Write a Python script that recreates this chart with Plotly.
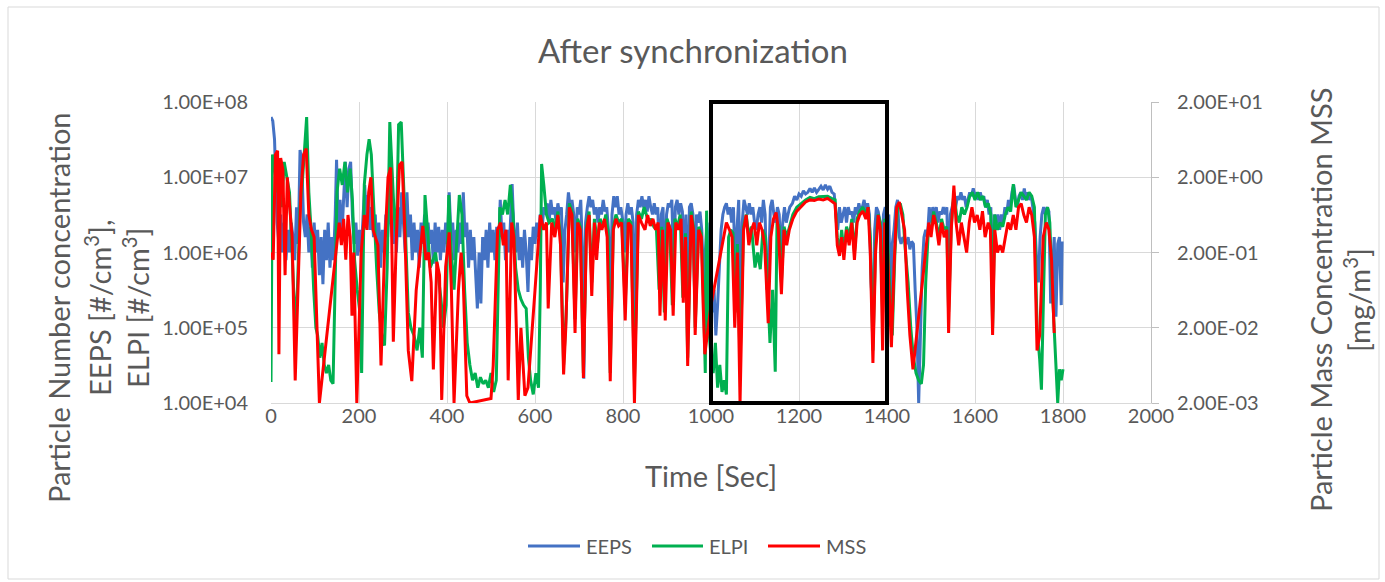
import plotly.graph_objects as go

# ---------------- data ----------------
eeps_t = [0, 4, 8, 11, 14, 18, 22, 26, 30, 34, 38, 42, 46, 50, 54, 58, 62, 66, 70, 74, 78, 82, 86, 90, 94, 98,
          102, 106, 110, 114, 118, 122, 126, 130, 134, 138, 142, 146, 149, 153, 157, 161, 165, 169, 173, 177, 181,
          185, 189, 193, 197, 201, 205, 209, 213, 217, 221, 225, 229, 233, 237, 241, 245, 249, 253, 257, 261, 265,
          269, 273, 277, 281, 285, 289, 293, 297, 301, 305, 309, 313, 317, 321, 325, 329, 333, 337, 341, 345, 349,
          353, 357, 361, 365, 369, 373, 377, 381, 385, 389, 393, 397, 401, 405, 409, 413, 417, 421, 425, 429, 433,
          437, 441, 445, 449, 453, 457, 461, 465, 469, 473, 477, 481, 485, 489, 493, 497, 501, 505, 509, 513, 517,
          521, 525, 529, 533, 537, 541, 545, 548, 552, 556, 560, 564, 568, 572, 576, 580, 584, 588, 592, 596, 600,
          604, 608, 612, 616, 620, 624, 628, 632, 636, 640, 644, 648, 652, 656, 660, 664, 668, 672, 676, 680, 684,
          688, 692, 696, 700, 704, 708, 711, 715, 719, 723, 727, 731, 735, 739, 743, 747, 751, 755, 759, 763, 767,
          771, 775, 779, 783, 787, 791, 795, 799, 803, 807, 811, 815, 819, 823, 827, 831, 835, 839, 843, 847, 851,
          855, 859, 863, 867, 871, 875, 879, 883, 887, 891, 895, 899, 903, 907, 911, 915, 919, 923, 927, 931, 935,
          939, 943, 947, 951, 955, 959, 963, 967, 971, 975, 979, 983, 987, 991, 995, 999, 1003, 1007, 1011, 1015,
          1019, 1023, 1027, 1031, 1035, 1039, 1043, 1047, 1051, 1055, 1059, 1063, 1067, 1071, 1075, 1079, 1083,
          1087, 1091, 1095, 1099, 1103, 1107, 1111, 1115, 1119, 1123, 1127, 1131, 1135, 1139, 1143, 1147, 1151,
          1155, 1159, 1163, 1167, 1171, 1175, 1179, 1185, 1190, 1195, 1200, 1205, 1210, 1215, 1220, 1225, 1230,
          1235, 1240, 1245, 1250, 1255, 1260, 1265, 1270, 1275, 1280, 1284, 1288, 1292, 1296, 1300, 1304, 1308,
          1312, 1316, 1320, 1324, 1328, 1332, 1336, 1340, 1344, 1348, 1352, 1356, 1360, 1364, 1368, 1372, 1376,
          1380, 1384, 1388, 1392, 1396, 1400, 1404, 1408, 1412, 1416, 1420, 1424, 1428, 1432, 1436, 1440, 1444,
          1448, 1452, 1456, 1460, 1464, 1468, 1472, 1476, 1480, 1484, 1488, 1492, 1496, 1500, 1504, 1508, 1512,
          1516, 1520, 1524, 1528, 1532, 1536, 1540, 1544, 1548, 1552, 1556, 1560, 1564, 1568, 1572, 1576, 1580,
          1584, 1588, 1592, 1596, 1600, 1604, 1608, 1612, 1616, 1620, 1624, 1628, 1632, 1636, 1640, 1644, 1648,
          1652, 1656, 1660, 1664, 1668, 1672, 1676, 1680, 1684, 1688, 1692, 1696, 1700, 1704, 1708, 1712, 1716,
          1720, 1724, 1728, 1732, 1736, 1740, 1744, 1748, 1752, 1756, 1760, 1764, 1768, 1772, 1776, 1780, 1784,
          1788, 1792, 1796, 1798]
eeps_v = [6.3e7, 5.6e7, 3.2e7, 1.0e7, 2.5e6, 1.3e6, 3.2e6, 1.0e6, 2.5e6, 7.9e5, 2.0e6, 1.0e6, 2.5e6, 1.6e6, 7.9e5,
          4.0e6, 1.3e6, 2.3e7, 1.6e7, 2.5e6, 1.6e6, 3.2e6, 1.0e6, 2.2e6, 6.3e5, 2.5e6,
          1.0e6, 2.0e6, 5.0e5, 1.6e6, 3.8e5, 2.0e6, 7.9e5, 2.5e6, 6.3e5, 1.6e6, 7.9e5, 3.2e6, 1.7e7, 2.0e6, 5.0e6,
          1.6e6, 6.3e6, 1.6e7, 4.0e6, 1.3e7, 1.6e7,
          3.2e6, 1.3e6, 2.5e6, 9.1e5, 2.0e6, 1.0e6, 3.2e6, 7.9e6, 2.5e6, 5.8e6, 2.0e6, 4.0e6, 1.6e6, 3.2e6, 1.0e6,
          2.5e6, 6.3e5, 2.0e6, 1.0e6, 3.2e6, 1.6e6,
          6.3e6, 2.5e6, 1.3e6, 3.2e6, 1.0e6, 4.0e6, 1.6e6, 6.3e6, 2.0e6, 1.0e6, 6.3e6, 1.6e6, 3.2e6, 7.9e5, 2.5e6,
          1.0e6, 2.0e6, 6.3e5, 2.5e6, 1.3e6, 3.2e6,
          7.9e5, 2.5e6, 1.3e6, 2.0e6, 7.1e5, 2.5e6, 1.0e6, 2.2e6, 7.9e5, 2.0e6, 1.0e6, 2.5e6, 1.3e6, 6.3e6, 1.6e6,
          2.5e6, 7.9e5, 2.0e6, 1.0e6, 2.5e6, 1.3e6,
          6.3e6, 1.6e6, 2.5e6, 6.3e5, 2.0e6, 7.9e5, 1.6e6, 5.0e5, 1.8e5, 1.0e6, 2.1e5, 1.6e6, 7.9e5, 2.0e6, 6.3e5,
          2.5e6, 1.0e6, 2.0e6, 7.9e5, 2.2e6, 1.0e6,
          5.0e6, 1.6e6, 2.5e6, 7.9e5, 2.0e6, 1.0e6, 3.2e6, 8.1e6, 2.0e6, 1.0e6, 2.5e6, 7.9e5, 1.6e6, 6.3e5, 2.0e6,
          1.0e6, 3.0e5, 1.6e6, 7.9e5, 2.2e6, 1.3e6,
          2.5e6, 1.6e6, 3.2e6, 2.0e6, 4.0e6, 3.2e6, 4.5e6, 2.5e6, 5.0e6, 3.2e6, 4.0e6, 2.5e6, 4.5e6, 3.2e6, 4.0e6,
          4.0e5, 2.0e6, 3.2e6, 6.3e6, 4.0e6, 5.0e6,
          3.2e6, 1.0e6, 4.0e6, 3.2e6, 5.0e6, 1.0e6, 2.1e4, 2.5e6, 4.0e6, 5.6e6, 4.0e6, 5.0e6, 3.2e6, 4.0e6, 2.5e6,
          4.0e6, 3.2e6, 5.0e6, 3.5e6, 4.0e6, 2.0e6,
          1.0e5, 3.2e6, 5.6e6, 4.0e6, 5.6e6, 3.2e6, 4.0e6, 2.8e6, 1.0e6, 3.2e6, 4.5e6, 3.2e6, 4.0e6, 2.5e6, 1.0e5,
          3.2e6, 5.0e6, 4.0e6, 5.6e6, 4.0e6, 5.0e6,
          3.5e6, 5.6e6, 4.0e6, 3.2e6, 4.5e6, 3.2e6, 4.0e6, 6.3e5, 3.2e6, 4.0e6, 4.0e5, 3.2e6, 4.5e6, 4.0e6, 5.0e6,
          6.3e5, 4.0e6, 5.0e6, 3.2e6, 4.5e6, 3.5e6,
          7.9e5, 3.2e6, 1.6e5, 4.0e6, 4.5e6, 3.2e6, 2.5e5, 3.2e6, 2.5e6, 3.5e6, 2.0e6, 4.0e5, 1.0e6, 2.5e6, 7.9e5,
          4.0e5, 1.6e5, 3.2e5, 7.9e4, 2.0e5,
          7.9e5, 2.0e6, 3.2e6, 4.0e6, 4.5e6, 3.2e6, 4.0e6, 2.5e6, 4.0e6, 6.3e5, 2.0e6, 5.0e6, 1.0e5, 2.5e6, 5.0e6,
          4.0e6, 3.2e6,
          4.5e6, 3.2e6, 4.0e6, 2.5e6, 2.0e6, 3.2e6, 4.0e6, 2.5e6, 5.0e6, 3.2e6, 3.2e5, 6.3e5, 4.0e6, 5.0e6, 3.2e6,
          2.5e6, 4.0e6,
          3.2e6, 7.9e5, 2.5e6, 4.0e6, 2.5e6, 3.2e6, 4.0e6, 4.5e6, 5.6e6, 5.0e6, 6.0e6, 5.6e6, 6.6e6, 6.0e6, 6.3e6,
          7.1e6, 6.3e6,
          7.2e6, 6.3e6, 6.9e6, 7.6e6, 6.8e6, 7.9e6, 6.9e6, 7.6e6, 6.3e6, 6.0e6, 3.2e6, 2.0e6, 4.0e6, 2.5e6, 3.2e6,
          4.0e6, 2.5e6,
          4.0e6, 3.2e6, 3.5e6, 2.5e6, 4.0e6, 3.2e6, 4.5e6, 3.5e6, 4.0e6, 5.0e6, 3.5e6, 4.5e6, 3.2e6, 4.0e5, 1.0e5,
          2.0e6, 4.0e6,
          3.5e6, 2.5e6, 4.0e5, 3.2e6, 4.0e6, 1.6e6, 3.2e6, 2.5e5, 1.3e6, 2.0e6, 4.0e6, 5.0e6, 1.6e6, 1.3e6, 1.6e6,
          1.4e6, 1.3e6,
          1.6e6, 1.1e6, 1.4e6, 1.3e6, 3.2e5, 1.0e5, 1.0e4, 1.0e5, 6.3e5, 1.6e6, 2.0e6, 1.6e6, 4.0e6, 2.5e6, 4.0e6,
          3.2e6, 4.0e6,
          2.5e6, 3.5e6, 3.2e6, 4.0e6, 3.2e6, 4.0e6, 4.0e5, 3.2e6, 4.0e6, 5.0e6, 4.0e6, 5.6e6, 5.0e6, 6.3e6, 5.0e6,
          5.6e6, 4.0e6,
          5.0e6, 6.3e6, 5.6e6, 7.1e6, 5.6e6, 6.3e6, 5.0e6, 6.3e6, 5.0e6, 5.6e6, 4.0e6, 5.0e6, 3.2e6, 4.0e6, 1.6e5,
          3.2e6, 2.5e6,
          3.2e6, 2.0e6, 3.2e6, 2.5e6, 4.0e6, 3.2e6, 5.0e6, 4.0e6, 6.3e6, 7.9e6, 5.0e6, 4.0e6, 5.6e6, 6.3e6, 5.0e6,
          7.1e6, 5.0e6,
          6.3e6, 5.0e6, 5.6e6, 4.0e6, 2.5e6, 7.9e5, 4.0e5, 1.6e6, 3.2e6, 4.0e6, 3.2e6, 4.0e6, 3.5e6, 2.1e5, 6.3e5,
          1.6e6, 1.4e5,
          1.3e6, 1.6e6, 2.0e5, 1.4e6]

elpi_t = [0, 3, 8, 13, 18, 24, 30, 36, 42, 48, 55, 60, 66, 72, 78, 81, 86, 92, 97, 102, 106, 111, 116, 121, 126,
          131, 136, 141, 150, 156, 162, 168, 174, 180, 185, 190, 196, 202, 206, 212, 218, 223, 228, 234, 240, 246,
          252, 258, 264, 270, 275, 280, 285, 290, 296, 300, 306, 312, 318, 325, 332, 338, 344, 350, 356, 362, 368,
          374, 380, 386, 392, 398, 404, 410, 416, 422, 428, 434, 440, 446, 452, 458, 464, 470, 476, 482, 488, 494,
          500, 506, 512, 520, 526, 532, 538, 544, 550, 556, 562, 568, 574, 580, 585, 590, 596, 602, 608, 612, 615,
          620, 626, 632, 640, 646, 652, 658, 665, 671, 678, 684, 691, 697, 703, 710, 717, 723, 729, 735, 742, 748,
          755, 761, 766, 771, 778, 784, 790, 797, 805, 812, 818, 826, 835, 842, 848, 853, 858, 864, 870, 876, 882,
          888, 894, 900, 906, 912, 918, 924, 930, 936, 942, 947, 955, 960, 964, 972, 978, 983, 987, 990, 995, 1000,
          1005, 1010, 1015, 1020, 1025, 1030, 1035, 1040, 1045, 1050, 1055, 1060, 1066, 1074, 1080, 1086, 1092,
          1100, 1106, 1112, 1118, 1124, 1130, 1134, 1140, 1146, 1150, 1155, 1160, 1166, 1172, 1178, 1186, 1195,
          1205, 1215, 1225, 1235, 1245, 1255, 1265, 1275, 1282, 1287, 1292, 1297, 1302, 1308, 1314, 1320, 1326,
          1332, 1338, 1345, 1352, 1357, 1362, 1368, 1374, 1380, 1385, 1390, 1395, 1400, 1406, 1412, 1418, 1424,
          1430, 1436, 1442, 1448, 1454, 1460, 1466, 1472, 1478, 1483, 1488, 1494, 1500, 1506, 1512, 1518, 1524,
          1530, 1536, 1540, 1546, 1552, 1558, 1564, 1570, 1576, 1582, 1588, 1594, 1600, 1606, 1612, 1618, 1624,
          1630, 1636, 1640, 1645, 1651, 1657, 1663, 1669, 1675, 1681, 1687, 1693, 1699, 1705, 1711, 1717, 1723,
          1729, 1735, 1741, 1747, 1751, 1756, 1760, 1765, 1770, 1775, 1780, 1784, 1788, 1792, 1796, 1800]
elpi_v = [1.9e4, 2.0e7, 1.6e7, 6.3e6, 1.0e7, 4.0e6, 1.6e7, 1.0e7, 6.3e6, 1.0e6, 1.0e5, 3.2e5, 4.0e6, 1.0e7, 3.2e7,
          6.3e7, 6.3e6, 1.6e6, 3.2e5, 1.0e5, 7.9e4, 4.0e4, 6.3e4, 3.2e4, 2.5e4,
          3.2e4, 2.0e4, 1.8e4, 6.3e6, 1.3e7, 7.9e6, 1.6e7, 6.3e6, 1.3e7, 5.0e6, 7.9e5, 3.2e5, 1.6e5, 2.5e4, 7.9e6,
          2.0e7, 3.2e7, 2.0e7, 3.2e6, 6.3e5, 1.6e5,
          7.9e4, 5.8e4, 6.3e5, 5.4e7, 1.6e7, 3.2e6, 1.6e6, 5.0e7, 5.4e7, 1.6e7, 1.6e6, 1.6e5, 1.0e5, 7.9e4, 5.0e4,
          1.0e5, 4.0e4, 5.8e6, 1.6e6, 6.3e5, 7.9e5,
          1.0e6, 5.0e5, 2.5e5, 1.0e5, 2.0e5, 5.8e6, 1.0e6, 3.2e5, 1.6e6, 5.8e6, 3.2e6, 3.2e5, 6.3e4, 3.2e4, 2.0e4,
          2.5e4, 1.6e4, 2.2e4, 1.8e4, 2.0e4, 1.6e4,
          2.5e4, 1.4e4, 2.0e4, 4.0e6, 3.2e6, 5.0e6, 3.2e6, 7.9e6, 3.2e6, 6.3e5, 3.2e5, 2.4e5, 2.0e5, 1.8e5, 4.0e4,
          2.0e4, 1.3e4, 2.5e4, 1.6e4, 3.2e5, 1.5e7,
          7.9e6, 3.2e6, 2.5e6, 2.8e6, 2.0e6, 3.5e6, 1.6e6, 3.2e4, 1.6e5, 4.5e6, 3.5e6, 1.3e5, 2.8e6, 2.2e6, 2.5e4,
          2.2e6, 3.5e6, 4.0e5, 2.8e6, 1.3e6, 2.8e6,
          2.2e6, 3.2e6, 1.8e6, 2.5e4, 2.2e6, 3.2e6, 2.5e6, 2.8e6, 2.0e5, 2.8e6, 2.5e6, 2.0e4, 3.5e6, 2.8e6, 4.0e6,
          3.2e6, 2.5e6, 2.8e6, 2.2e6, 2.0e6, 3.2e5,
          2.2e6, 1.6e5, 2.8e6, 2.2e6, 2.0e5, 2.8e6, 2.2e6, 3.2e6, 2.5e5, 1.8e6, 4.0e4, 3.5e6, 2.2e6, 1.0e5, 2.2e6,
          1.8e6, 2.5e5, 2.5e4, 3.6e6, 1.0e5, 4.0e4,
          2.5e4, 6.3e4, 1.6e4, 3.2e4, 1.4e4, 2.0e4, 1.3e4, 1.6e6, 2.0e6, 1.8e6, 1.6e5, 1.3e6, 3.2e4, 2.2e6, 3.2e6,
          1.6e6, 2.2e6,
          6.3e5, 1.0e6, 6.0e5, 2.0e6, 1.6e6, 1.6e5, 6.3e4, 3.2e5, 2.6e4, 2.5e6, 2.2e6, 4.0e5, 2.2e6, 1.6e6, 2.2e6,
          3.2e6, 4.0e6,
          4.5e6, 5.0e6, 5.4e6, 5.2e6, 5.5e6, 5.5e6, 5.6e6, 5.2e6, 5.0e6, 1.6e6, 1.0e6, 2.0e6, 1.0e6, 2.2e6, 1.6e6,
          2.8e6, 1.0e6,
          2.8e6, 3.5e6, 4.0e6, 3.2e6, 4.0e6, 1.6e6, 5.0e4, 1.3e6, 3.2e6, 2.5e6, 1.6e5, 2.8e6, 2.0e6, 4.0e5, 7.9e4,
          1.0e6, 4.0e6,
          4.5e6, 3.2e6, 1.0e6, 4.0e5, 1.0e5, 4.0e4, 2.5e4, 2.0e4, 1.8e4, 3.2e4, 4.0e5, 2.0e6, 2.0e6, 3.5e6, 2.5e6,
          1.6e6, 2.8e6,
          2.0e6, 2.2e6, 1.6e5, 2.2e6, 6.3e6, 3.2e6, 2.5e6, 4.0e6, 3.2e6, 4.0e6, 5.6e6, 6.3e6, 5.0e6, 6.3e6, 5.0e6,
          5.6e6, 4.0e6,
          4.5e6, 3.2e6, 1.0e5, 3.2e6, 2.0e6, 2.5e6, 2.2e6, 3.2e6, 4.0e6, 3.5e6, 8.1e6, 4.0e6, 5.0e6, 6.3e6, 5.6e6,
          5.0e6, 6.3e6,
          5.6e6, 4.0e6, 1.0e5, 3.8e4, 1.5e4, 3.2e5, 3.2e6, 4.0e6, 2.5e6, 4.0e5, 7.9e4, 3.2e4, 1.0e4, 2.8e4, 2.0e4,
          2.8e4]

mss_t = [0, 5, 10, 15, 18, 22, 27, 32, 37, 42, 48, 55, 62, 68, 74, 80, 86, 92, 98, 104, 110, 155, 160, 165, 170,
         175, 180, 184, 188, 195, 205, 212, 218, 222, 227, 232, 238, 243, 250, 258, 266, 272, 278, 285, 292, 298,
         304, 312, 320, 330, 345, 352, 358, 364, 369, 377, 383, 388, 397, 405, 410, 416, 426, 432, 437, 445, 452,
         500, 505, 515, 522, 528, 534, 539, 547, 552, 562, 568, 577, 584, 600, 612, 620, 626, 630, 638, 645, 652,
         658, 665, 670, 678, 684, 691, 697, 703, 710, 717, 723, 729, 735, 740, 746, 752, 758, 764, 771, 778, 784,
         790, 797, 805, 812, 818, 826, 835, 842, 850, 856, 862, 868, 874, 880, 884, 890, 896, 902, 908, 914, 920,
         926, 932, 937, 942, 947, 955, 960, 964, 972, 978, 982, 986, 1000, 1035, 1042, 1048, 1054, 1060, 1066,
         1074, 1080, 1086, 1092, 1098, 1104, 1110, 1116, 1122, 1130, 1136, 1142, 1148, 1153, 1160, 1166, 1172,
         1178, 1186, 1195, 1205, 1215, 1225, 1235, 1245, 1255, 1265, 1275, 1282, 1287, 1292, 1297, 1302, 1308,
         1314, 1320, 1326, 1332, 1338, 1345, 1352, 1357, 1362, 1368, 1374, 1380, 1385, 1390, 1395, 1400, 1405,
         1410, 1416, 1422, 1428, 1434, 1440, 1446, 1452, 1459, 1495, 1500, 1506, 1512, 1518, 1524, 1530, 1536,
         1540, 1546, 1552, 1557, 1563, 1569, 1575, 1581, 1587, 1593, 1599, 1605, 1611, 1617, 1623, 1630, 1635,
         1640, 1645, 1651, 1657, 1663, 1669, 1675, 1681, 1687, 1693, 1699, 1705, 1711, 1717, 1723, 1729, 1735,
         1741, 1747, 1755, 1762, 1768, 1774, 1780]
mss_v = [0.20, 0.16, 4.0, 4.5, 0.0089, 3.6, 2.5, 0.10, 2.0, 0.80, 0.32, 0.0040, 0.13, 1.26, 4.0, 4.8, 0.63, 0.40,
         0.32, 0.020, 0.0020, 0.50, 0.25, 0.56, 0.16,
         0.63, 0.32, 0.029, 0.20, 0.0020, 0.20, 0.63, 0.40, 1.26, 2.0, 0.40, 0.32, 0.25, 0.0063, 0.20, 2.0, 2.7,
         0.013, 0.32, 2.9, 3.2,
         0.40, 0.010, 0.0039, 0.063, 0.45, 0.16, 0.20, 0.080, 0.0056, 0.15, 0.10, 0.0022, 0.13, 0.37, 0.063, 0.0020,
         0.063, 0.20, 0.080, 0.0025, 0.0020,
         0.0023, 0.0063, 0.40, 0.50, 0.25, 0.40, 0.0040, 0.50, 0.32, 0.0022, 0.020, 0.0025, 0.0032, 0.063, 0.63,
         0.40, 0.50, 0.036, 0.50, 0.32, 0.63,
         0.25, 0.0048, 0.020, 0.80, 0.63, 0.017, 0.50, 0.40, 0.0043, 0.40, 0.63, 0.053, 0.50, 0.16, 0.50, 0.40, 0.56,
         0.32, 0.0039, 0.40, 0.56,
         0.45, 0.50, 0.025, 0.50, 0.45, 0.0020, 0.63, 0.50, 0.40, 0.63, 0.45, 0.56, 0.40, 0.50, 0.029, 0.40, 0.025,
         0.50, 0.40, 0.029, 0.50,
         0.40, 0.56, 0.043, 0.32, 0.0062, 0.63, 0.40, 0.016, 0.40, 0.32, 0.043, 0.0089, 0.040, 0.50, 0.40, 0.32,
         0.020, 0.20, 0.0020,
         0.40, 0.63, 0.25, 0.40, 0.50, 0.25, 0.50, 0.40, 0.25, 0.023, 0.32, 0.56, 0.68, 0.40, 0.056, 0.40, 0.25,
         0.40, 0.56, 0.71, 0.83, 0.94, 1.0, 0.98, 1.03, 1.0, 1.05, 0.96, 0.89, 0.25, 0.18, 0.32, 0.16, 0.40,
         0.25, 0.50, 0.16, 0.50, 0.63, 0.71, 0.56, 0.80, 0.20, 0.0068, 0.20, 0.63, 0.40, 0.010, 0.50, 0.32, 0.063,
         0.011, 0.13, 0.80, 0.94, 0.63, 0.40, 0.063, 0.016, 0.0056, 0.50, 0.32, 0.63, 0.45, 0.25, 0.50, 0.32, 0.40,
         0.017, 0.40, 1.55, 0.50, 0.25, 0.50, 0.32, 0.20, 0.50, 0.80, 0.50, 0.63, 0.40, 0.71, 0.32, 0.50, 0.40,
         0.016, 0.40, 0.20, 0.25, 0.20, 0.32, 0.50, 0.40, 0.63, 0.40, 0.80, 0.89, 0.63, 0.50, 0.80, 0.63, 0.32,
         0.010, 0.016, 0.32, 0.50, 0.40, 0.16, 0.017]

left_ticks = [1e4, 1e5, 1e6, 1e7, 1e8]
left_ticktext = ["1.00E+04", "1.00E+05", "1.00E+06", "1.00E+07", "1.00E+08"]
right_ticks = [0.002, 0.02, 0.2, 2, 20]
right_ticktext = ["2.00E-03", "2.00E-02", "2.00E-01", "2.00E+00", "2.00E+01"]
highlight = [1000, 1400]
series_names = ["EEPS", "ELPI", "MSS"]
series_colors = ["#4472C4", "#00B050", "#FF0000"]

# ---------------- figure ----------------
FONT = "Lato"
GREY = "#595959"
W, H = 1385, 582
ML, MR, MT, MB = 271, 234, 102, 179
PW, PH = W - ML - MR, H - MT - MB


def px_x(px):
    return (px - ML) / PW


def px_y(py):
    return (H - MB - py) / PH


fig = go.Figure()
fig.add_trace(go.Scatter(x=eeps_t, y=eeps_v, name=series_names[0], mode="lines",
                         line=dict(color=series_colors[0], width=3), yaxis="y"))
fig.add_trace(go.Scatter(x=elpi_t, y=elpi_v, name=series_names[1], mode="lines",
                         line=dict(color=series_colors[1], width=3), yaxis="y"))
fig.add_trace(go.Scatter(x=mss_t, y=mss_v, name=series_names[2], mode="lines",
                         line=dict(color=series_colors[2], width=3), yaxis="y2"))

fig.update_layout(
    width=W, height=H,
    margin=dict(l=ML, r=MR, t=MT, b=MB, autoexpand=False),
    paper_bgcolor="white", plot_bgcolor="white",
    font=dict(family=FONT, color=GREY),
    showlegend=False,
    xaxis=dict(range=[0, 2000], tickvals=list(range(0, 2001, 200)), showgrid=True,
               gridcolor="#D9D9D9", gridwidth=1, zeroline=False, showline=True,
               linecolor="#D9D9D9", linewidth=1, ticks="", ticklabelstandoff=-5,
               tickfont=dict(family=FONT, size=20, color=GREY)),
    yaxis=dict(type="log", range=[4, 8], tickvals=left_ticks, ticktext=left_ticktext,
               showgrid=True, gridcolor="#D9D9D9", gridwidth=1, zeroline=False,
               showline=False, ticks="", ticklabelstandoff=22,
               tickfont=dict(family=FONT, size=20, color=GREY)),
    yaxis2=dict(type="log", range=[-2.69897, 1.30103], tickvals=right_ticks, ticktext=right_ticktext,
                overlaying="y", side="right", showgrid=False, zeroline=False,
                showline=True, linecolor="#BFBFBF", linewidth=1,
                ticks="outside", ticklen=7, tickcolor="#BFBFBF", ticklabelstandoff=14,
                tickfont=dict(family=FONT, size=20, color=GREY)),
)

# highlight box
fig.add_shape(type="rect", xref="x", yref="paper", x0=highlight[0], x1=highlight[1], y0=0, y1=1,
              line=dict(color="black", width=4), fillcolor="rgba(0,0,0,0)", layer="above")
# chart outer border
fig.add_shape(type="rect", xref="paper", yref="paper",
              x0=px_x(8), x1=px_x(1379), y0=px_y(579), y1=px_y(7),
              line=dict(color="#D9D9D9", width=1), layer="below")

ann = []
ann.append(dict(text="After synchronization", x=px_x(693), y=px_y(50), xref="paper", yref="paper",
                showarrow=False, font=dict(family=FONT, size=33, color=GREY),
                xanchor="center", yanchor="middle"))
ann.append(dict(text="Time [Sec]", x=px_x(711), y=px_y(475), xref="paper", yref="paper",
                showarrow=False, font=dict(family=FONT, size=29, color=GREY),
                xanchor="center", yanchor="middle"))
for txt, px in [("Particle Number concentration", 58),
                ("EEPS [#/cm<sup>3</sup>],", 98),
                ("ELPI [#/cm<sup>3</sup>]", 136)]:
    ann.append(dict(text=txt, x=px_x(px), y=px_y(308), xref="paper", yref="paper", textangle=-90,
                    showarrow=False, font=dict(family=FONT, size=29, color=GREY),
                    xanchor="center", yanchor="middle"))
for txt, px in [("Particle Mass Concentration MSS", 1320),
                ("[mg/m<sup>3</sup>]", 1357)]:
    ann.append(dict(text=txt, x=px_x(px), y=px_y(300), xref="paper", yref="paper", textangle=-90,
                    showarrow=False, font=dict(family=FONT, size=29, color=GREY),
                    xanchor="center", yanchor="middle"))

# legend (drawn at the reference positions)
legend_line_px = [(528, 580), (652, 703), (768, 820)]
legend_y = px_y(546)
for name, color, (a, b) in zip(series_names, series_colors, legend_line_px):
    fig.add_shape(type="line", xref="paper", yref="paper", x0=px_x(a), x1=px_x(b),
                  y0=legend_y, y1=legend_y, line=dict(color=color, width=3))
    ann.append(dict(text=name, x=px_x(b + 4), y=legend_y, xref="paper", yref="paper",
                    showarrow=False, font=dict(family=FONT, size=20, color=GREY),
                    xanchor="left", yanchor="middle"))
fig.update_layout(annotations=ann)

fig.write_html("out.html", include_plotlyjs=True, full_html=True,
               config={"displayModeBar": False})
